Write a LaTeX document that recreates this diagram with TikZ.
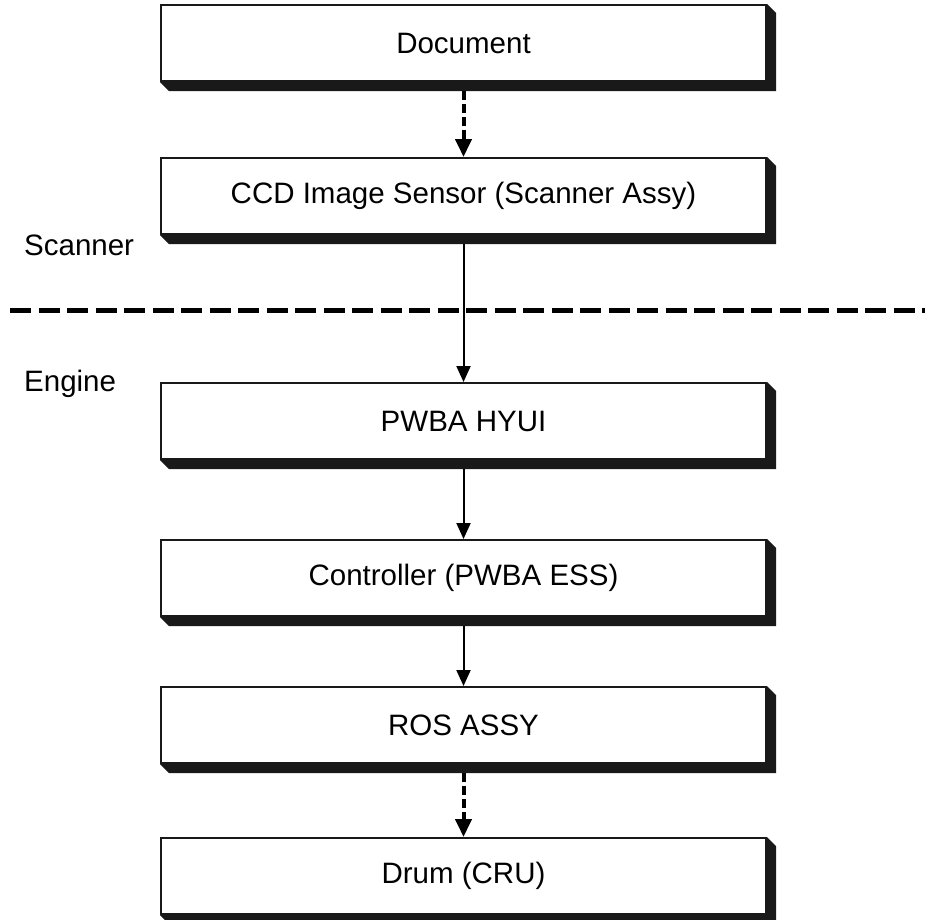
\documentclass[tikz,border=0pt]{standalone}
\usepackage{fontspec}
\setmainfont{Liberation Sans}
\usetikzlibrary{arrows.meta,calc}
\begin{document}
\begin{tikzpicture}[x=1pt,y=-1pt,
  font=\fontsize{29.5}{35}\selectfont,
  box/.style={draw=black!90,line width=2pt,fill=white,minimum width=605pt,minimum height=76pt,inner sep=0pt},
  lbl/.style={inner sep=0pt},
  solidarrow/.style={line width=2pt,-{Triangle[width=14pt,length=16pt]}},
  dasharrow/.style={line width=4pt,dash pattern=on 9pt off 4pt,-{Triangle[width=16pt,length=18pt]}},
  sep/.style={line width=5pt,dash pattern=on 21pt off 7.5pt},
  shade/.style={fill=black!90}]
\useasboundingbox (0,0) rectangle (925,919);
\node[box] (doc) at (463.5,43) {Document};
\node[box] (ccd) at (463.5,196) {CCD Image Sensor (Scanner Assy)};
\node[box] (hyui) at (463.5,421) {PWBA HYUI};
\node[box] (ctrl) at (463.5,578) {Controller (PWBA ESS)};
\node[box] (ros) at (463.5,725) {ROS ASSY};
\node[box] (drum) at (463.5,876) {Drum (CRU)};
\foreach \n in {doc,ccd,hyui,ctrl,ros,drum}{
  \fill[shade] (\n.north east) -- ++(9,9) -- ($(\n.south east)+(9,9)$) -- ($(\n.south west)+(9,9)$) -- (\n.south west) -- (\n.south east) -- cycle;
}
\node[lbl,anchor=west] (scanner) at (24,245) {Scanner};
\node[lbl,anchor=west] (engine) at (24,384) {Engine};
\coordinate (sepL) at (10,310);
\coordinate (sepR) at (925,310);
\draw[sep] (sepL) -- (sepR);
\draw[dasharrow] ($(doc.south)+(0,9)$) -- (ccd.north);
\draw[solidarrow] ($(ccd.south)+(0,9)$) -- (hyui.north);
\draw[solidarrow] ($(hyui.south)+(0,9)$) -- (ctrl.north);
\draw[solidarrow] ($(ctrl.south)+(0,9)$) -- (ros.north);
\draw[dasharrow] ($(ros.south)+(0,9)$) -- (drum.north);
\end{tikzpicture}
\end{document}
